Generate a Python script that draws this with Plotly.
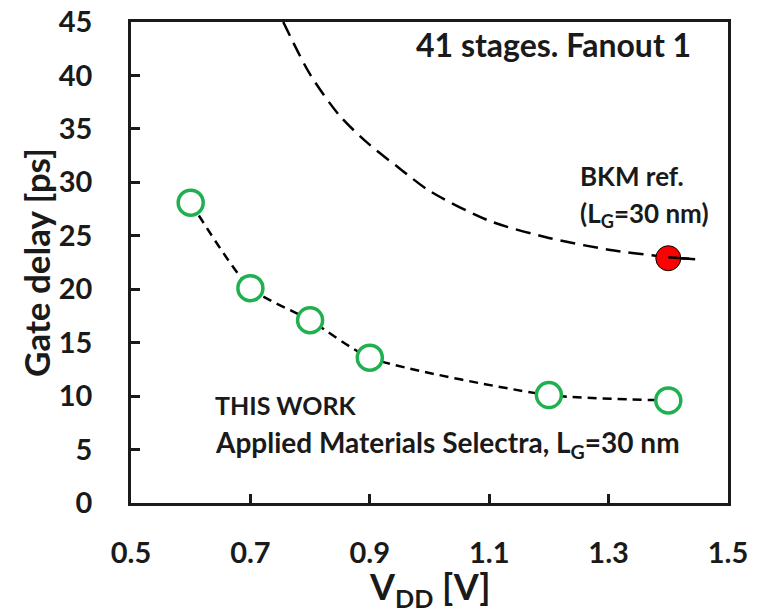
import plotly.graph_objects as go

# Data
vdd_work = [0.6, 0.7, 0.8, 0.9, 1.2, 1.4]
delay_work = [28.1, 20.1, 17.1, 13.6, 10.1, 9.6]

vdd_bkm_pt = [1.4]
delay_bkm_pt = [22.9]

vdd_bkm_curve = [0.755, 0.80, 0.85, 0.90, 0.95, 1.0, 1.1, 1.2, 1.3, 1.4, 1.445]
delay_bkm_curve = [45.0, 40.1, 36.2, 33.5, 31.3, 29.2, 26.4, 24.8, 23.7, 23.0, 22.8]

x_ticks = [0.5, 0.7, 0.9, 1.1, 1.3, 1.5]
y_ticks = [0, 5, 10, 15, 20, 25, 30, 35, 40, 45]

FONT = "Lato"
GREEN = "#1fb04f"
INK = "#1a1a1a"

fig = go.Figure()

fig.add_trace(go.Scatter(
    x=vdd_bkm_curve, y=delay_bkm_curve, mode="lines",
    line=dict(color="black", width=2.5, dash="15px,8px", shape="spline", smoothing=0.8),
    hoverinfo="skip", showlegend=False))

fig.add_trace(go.Scatter(
    x=vdd_work, y=delay_work, mode="lines",
    line=dict(color="black", width=2.5, dash="9px,6px", shape="spline", smoothing=0.6),
    showlegend=False))

fig.add_trace(go.Scatter(
    x=vdd_work, y=delay_work, mode="markers",
    marker=dict(size=25, color="white", line=dict(color=GREEN, width=3.5)),
    showlegend=False, cliponaxis=False))

fig.add_trace(go.Scatter(
    x=vdd_bkm_pt, y=delay_bkm_pt, mode="markers",
    marker=dict(size=25, color="#ff0000", line=dict(color="black", width=1)),
    showlegend=False, cliponaxis=False))

# short line piece through the red dot
fig.add_trace(go.Scatter(
    x=vdd_bkm_curve[-2:], y=delay_bkm_curve[-2:], mode="lines",
    line=dict(color="black", width=2.5),
    showlegend=False, hoverinfo="skip"))

fig.add_annotation(x=1.207, y=42.9, text="<b>41 stages. Fanout 1</b>", showarrow=False,
                   xanchor="center", yanchor="middle", font=dict(family=FONT, size=32, color=INK))
fig.add_annotation(x=1.249, y=30.6, text="<b>BKM ref.</b>", showarrow=False,
                   xanchor="left", yanchor="middle", font=dict(family=FONT, size=26, color=INK))
fig.add_annotation(x=1.249, y=27.0, text="<b>(L<sub>G</sub>=30 nm)</b>", showarrow=False,
                   xanchor="left", yanchor="middle", font=dict(family=FONT, size=26, color=INK))
fig.add_annotation(x=0.637, y=9.2, text="<b>THIS WORK</b>", showarrow=False,
                   xanchor="left", yanchor="middle", font=dict(family=FONT, size=25, color=INK))
fig.add_annotation(x=0.637, y=5.55, text="<b>Applied Materials Selectra, L<sub>G</sub>=30 nm</b>", showarrow=False,
                   xanchor="left", yanchor="middle", font=dict(family=FONT, size=28, color=INK))

# axis titles
fig.add_annotation(xref="paper", yref="paper", x=-0.16, y=0.5, text="<b>Gate delay [ps]</b>",
                   textangle=-90, showarrow=False, xanchor="center", yanchor="middle",
                   font=dict(family=FONT, size=35, color=INK))
fig.add_annotation(xref="paper", yref="paper", x=0.5, y=-0.178, text="<b>V<sub>DD</sub> [V]</b>",
                   showarrow=False, xanchor="center", yanchor="middle",
                   font=dict(family=FONT, size=36, color=INK))

axis_common = dict(
    showgrid=False, zeroline=False, showline=True, mirror=True, automargin=False,
    linecolor=INK, linewidth=2.5,
    ticks="inside", ticklen=9, tickwidth=2.5, tickcolor=INK,
    tickfont=dict(family=FONT, size=29, color=INK, weight="bold"),
)

fig.update_xaxes(range=[0.5, 1.5], tickvals=x_ticks, ticktext=[f"{v:.1f}" for v in x_ticks],
                 ticklabelstandoff=22, **axis_common)
fig.update_yaxes(range=[0, 45], tickvals=y_ticks, ticktext=[str(v) for v in y_ticks],
                 ticklabelstandoff=30, **axis_common)

fig.update_layout(
    width=757, height=613,
    margin=dict(l=131, r=29, t=22, b=110),
    plot_bgcolor="white", paper_bgcolor="white",
    showlegend=False,
)

fig.write_html("out.html", config={"displayModeBar": False},
               post_script="document.body.style.margin='0';")
